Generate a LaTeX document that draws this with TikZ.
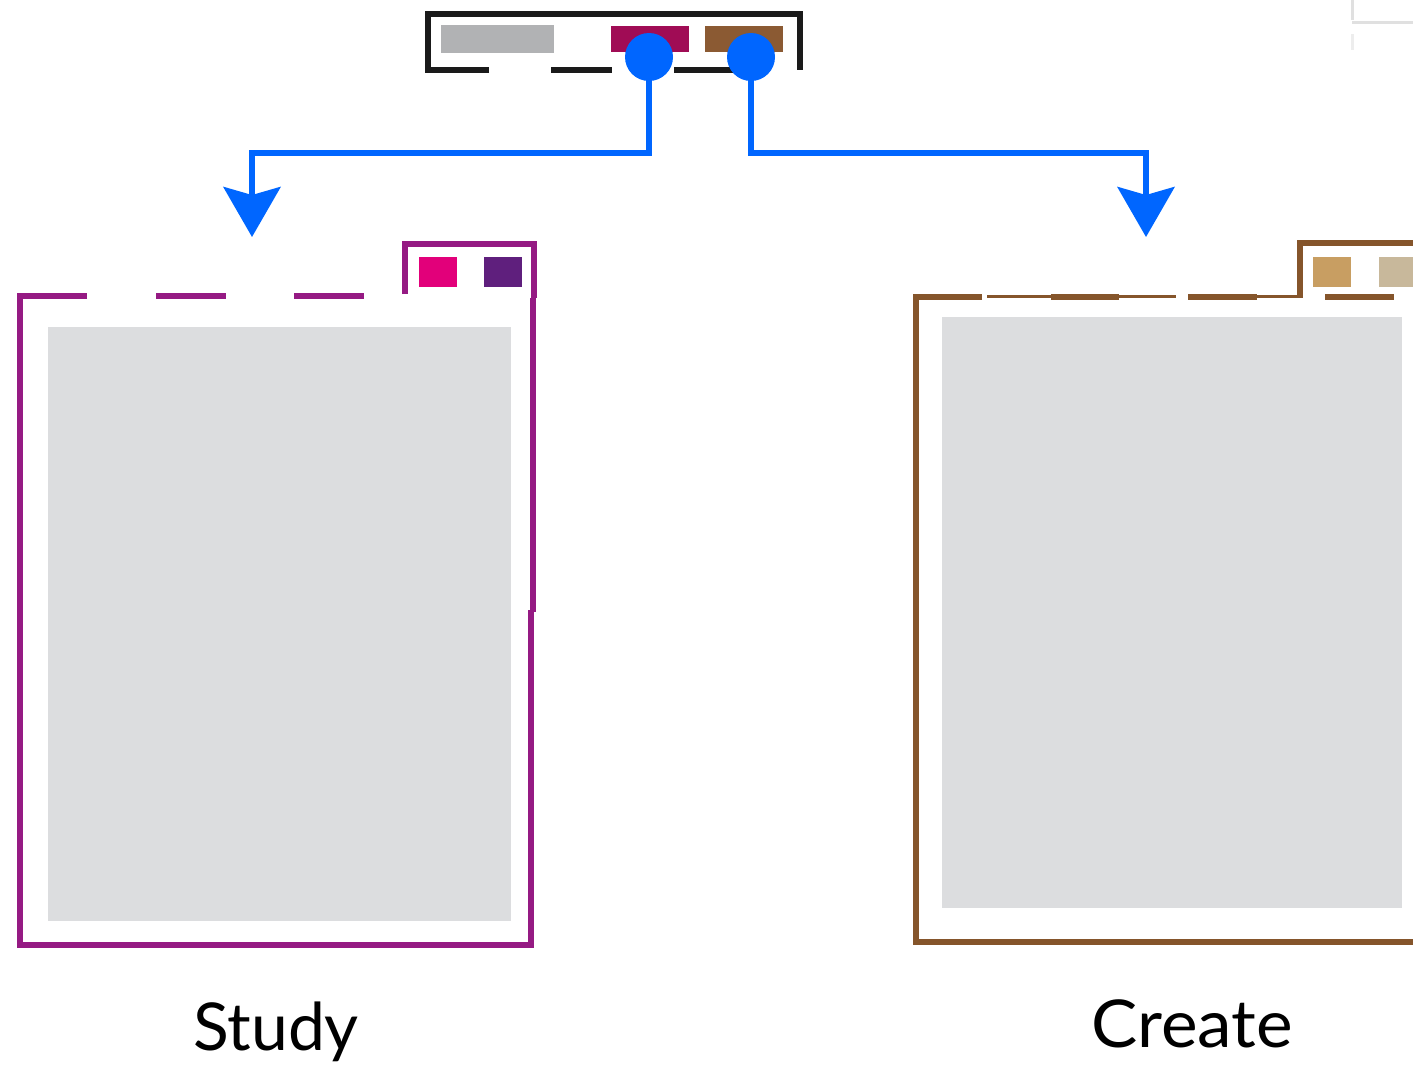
\documentclass[tikz,border=0pt]{standalone}
\usepackage{fontspec}
\setmainfont{Lato}
\usetikzlibrary{arrows.meta}
\definecolor{fblue}{HTML}{0066FF}
\definecolor{studyframe}{HTML}{951A83}
\definecolor{createframe}{HTML}{85552B}
\definecolor{pinkc}{HTML}{E2007A}
\definecolor{purplec}{HTML}{5F1F7D}
\definecolor{tanc}{HTML}{C89E62}
\definecolor{beigec}{HTML}{C8B89B}
\definecolor{panel}{HTML}{DCDDDF}
\definecolor{topgrey}{HTML}{B1B2B4}
\definecolor{magc}{HTML}{A00C55}
\definecolor{brownc}{HTML}{8B5A33}
\definecolor{frameblack}{HTML}{1A1A1A}
\tikzset{
  swatch/.style={draw=none, inner sep=0pt, outer sep=0pt, anchor=north west},
  dot/.style={circle, fill=fblue, draw=none, minimum size=48pt, inner sep=0pt},
  flow/.style={draw=fblue, line width=5.5pt, -{Stealth[length=50pt, width=57pt, inset=8pt]}},
  sframe/.style={draw=studyframe, line width=5.5pt},
  cframe/.style={draw=createframe, line width=5.5pt},
  cthin/.style={draw=createframe, line width=3pt},
  tframe/.style={draw=frameblack, line width=5.5pt},
  label/.style={font=\fontsize{66}{70}\selectfont, inner sep=0pt, anchor=base},
  ghost/.style={draw=black!12, line width=3pt}
}
\begin{document}
\begin{tikzpicture}[x=1pt, y=-1pt]
\useasboundingbox (0,0) rectangle (1413,1068);
% faint top-right corner
\draw[ghost] (1352,0) -- (1352,20);
\draw[ghost] (1352,22) -- (1413,22);
\draw[ghost,draw=black!7] (1352,34) -- (1352,50);
% top box
\draw[tframe] (489,70) -- (428,70) -- (428,14) -- (800,14) -- (800,70);
\draw[tframe] (551,70) -- (612,70);
\draw[tframe] (674,70) -- (745,70);
\node[swatch, fill=topgrey, minimum width=113pt, minimum height=28pt] (tgrey) at (441,25) {};
\node[swatch, fill=magc, minimum width=78pt, minimum height=26pt] (tmag) at (611,26) {};
\node[swatch, fill=brownc, minimum width=78pt, minimum height=26pt] (tbrown) at (705,26) {};
% study panel
\node[swatch, fill=panel, minimum width=463pt, minimum height=594pt] (spanel) at (48,327) {};
\draw[sframe] (87,296) -- (20,296) -- (20,945) -- (531,945) -- (531,610);
\draw[sframe] (533,612) -- (533,298);
\draw[sframe] (156,296) -- (226,296);
\draw[sframe] (294,296) -- (364,296);
\draw[sframe] (405,294) -- (405,244) -- (534,244) -- (534,298);
\node[swatch, fill=pinkc, minimum width=38pt, minimum height=30pt] (spink) at (419,257) {};
\node[swatch, fill=purplec, minimum width=38pt, minimum height=30pt] (spurple) at (484,257) {};
% create panel
\node[swatch, fill=panel, minimum width=460pt, minimum height=591pt] (cpanel) at (942,317) {};
\draw[cframe] (982,297) -- (916,297) -- (916,942) -- (1413,942);
\draw[cthin] (987,296) -- (1051,296);
\draw[cframe] (1051,297) -- (1119,297);
\draw[cthin] (1119,296) -- (1176,296);
\draw[cframe] (1188,297) -- (1257,297);
\draw[cthin] (1257,296) -- (1300,296);
\draw[cframe] (1300,297.5) -- (1300,243) -- (1413,243);
\draw[cframe] (1325,297) -- (1394,297);
\node[swatch, fill=tanc, minimum width=38pt, minimum height=30pt] (ctan) at (1313,257) {};
\node[swatch, fill=beigec, minimum width=40pt, minimum height=30pt] (cbeige) at (1379,257) {};
% connectors
\coordinate (c1) at (649,57);
\coordinate (c2) at (751,57);
\coordinate (studytip) at (252,237);
\coordinate (createtip) at (1146,237);
\draw[flow] (c1) -- (c1 |- 0,153) -| (studytip);
\draw[flow] (c2) -- (c2 |- 0,153) -| (createtip);
\node[dot] (d1) at (c1) {};
\node[dot] (d2) at (c2) {};
% labels
\node[label] (study) at (276,1050) {Study};
\node[label, xscale=1.05] (create) at (1192,1047) {Create};
\end{tikzpicture}
\end{document}
